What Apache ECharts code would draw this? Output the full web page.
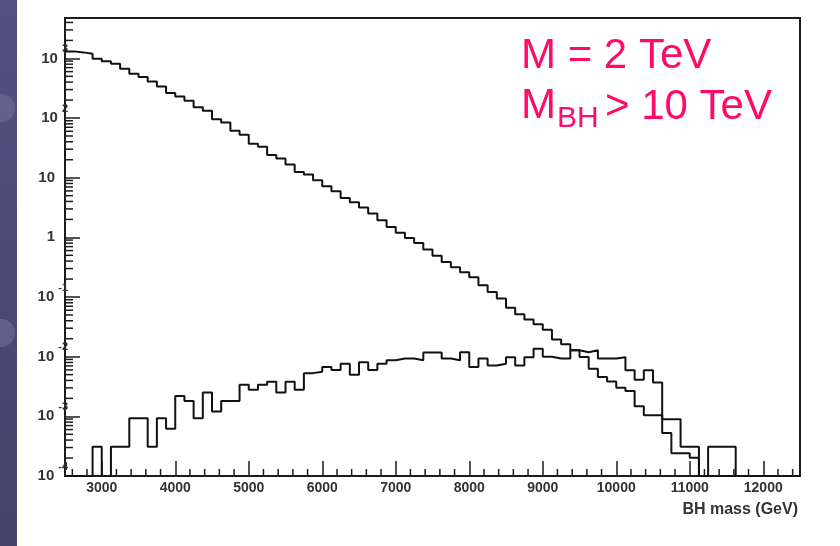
<!DOCTYPE html>
<html>
<head>
<meta charset="utf-8">
<title>BH mass</title>
<script src="https://cdn.jsdelivr.net/npm/echarts@6/dist/echarts.min.js"></script>
<style>
  html, body { margin: 0; padding: 0; background: #ffffff; }
  #chart { width: 840px; height: 546px; }
</style>
</head>
<body>
<div id="chart"></div>
<script>
// Binning: 80 bins of 125 GeV covering 2500 - 12500 GeV
const binLow = 2500;
const binWidth = 125;
const xMin = 2500;
const xMax = 12500;
const yMin = 1e-4;
const yMax = 4750;

// Falling spectrum (entries per bin), 0 = empty bin
const spectrumFalling = [
  1310, 1260, 1195, 985, 891, 811, 669, 552, 486, 411,
  339, 262, 230, 194, 151, 132, 95.8, 84.4, 61.0, 52.3,
  36.9, 33.1, 24.0, 21.0, 16.7, 12.5, 11.3, 9.08, 7.20, 5.94,
  4.58, 3.88, 3.16, 2.51, 1.94, 1.49, 1.19, 0.977, 0.805, 0.624,
  0.491, 0.387, 0.315, 0.260, 0.214, 0.157, 0.121, 0.094, 0.0659, 0.0513,
  0.0418, 0.0348, 0.0284, 0.0194, 0.0161, 0.0128, 0.00985, 0.00629, 0.00455, 0.00385,
  0.00302, 0.00265, 0.00147, 0.00104, 0.00104, 0.000527, 0.000241, 0.000241, 0.000202, 0,
  0, 0, 0, 0, 0, 0, 0, 0, 0, 0
];

// Rising spectrum (entries per bin), 0 = empty bin
const spectrumRising = [
  0, 0, 0, 0.00031, 0, 0.00031, 0.00031, 0.00093, 0.00093, 0.00031,
  0.00093, 0.00062, 0.0022, 0.0018, 0.00093, 0.0025, 0.0012, 0.0018, 0.0018, 0.0034,
  0.0028, 0.0034, 0.0038, 0.0025, 0.0038, 0.0028, 0.0053, 0.0056, 0.0067, 0.0060,
  0.0076, 0.0050, 0.0081, 0.0060, 0.0076, 0.0087, 0.0093, 0.0093, 0.0087, 0.0118,
  0.0118, 0.0093, 0.0087, 0.0119, 0.0067, 0.0093, 0.0071, 0.0076, 0.0098, 0.0071,
  0.0098, 0.0136, 0.0100, 0.0093, 0.0093, 0.0128, 0.0119, 0.0128, 0.0093, 0.0093,
  0.0098, 0.0059, 0.0041, 0.0059, 0.0037, 0.00089, 0.00089, 0.00031, 0.00031, 0,
  0.00031, 0.00031, 0.00031, 0, 0, 0, 0, 0, 0, 0
];

// Axis tick labels
const xTickLabels = [3000, 4000, 5000, 6000, 7000, 8000, 9000, 10000, 11000, 12000];
const yDecades = [-4, -3, -2, -1, 0, 1, 2, 3];

const labelColor = '#333333';
const frameColor = '#1c1c1c';
const labelFont = 'Liberation Sans, Arial, sans-serif';

// Histogram outline as step points at bin edges; empty bins sit on the frame floor
function stepPoints(values) {
  const pts = values.map((v, i) => [binLow + i * binWidth, v > 0 ? v : yMin]);
  pts.push([binLow + values.length * binWidth, pts[pts.length - 1][1]]);
  return pts;
}

// Minor tick positions: 2..9 per decade on y, every 200 GeV on x
const yMinorTicks = [];
yDecades.forEach(function (d) {
  for (let k = 2; k <= 9; k++) {
    const v = Number((k * Math.pow(10, d)).toPrecision(3));
    if (v < yMax) yMinorTicks.push(v);
  }
});
const xMinorTicks = [];
for (let v = xMin + 100; v < xMax; v += 200) {
  if (v % 1000 !== 0) xMinorTicks.push(v);
}

function tickSeries(data, horizontal, len) {
  return {
    type: 'custom',
    silent: true,
    clip: false,
    z: 4,
    animation: false,
    data: data,
    renderItem: function (params, api) {
      const p = api.coord([api.value(0), api.value(1)]);
      const shape = horizontal
        ? { x1: p[0], y1: p[1], x2: p[0] + len, y2: p[1] }
        : { x1: p[0], y1: p[1], x2: p[0], y2: p[1] - len };
      return { type: 'line', shape: shape, style: { stroke: frameColor, lineWidth: 1.5 } };
    }
  };
}

const chart = echarts.init(document.getElementById('chart'), null, { renderer: 'canvas' });

const option = {
  animation: false,
  backgroundColor: '#ffffff',
  grid: {
    left: 65, top: 18, right: 40, bottom: 70,
    show: true,
    borderColor: frameColor,
    borderWidth: 2,
    backgroundColor: '#ffffff',
    outerBoundsMode: 'none',
    containLabel: false
  },
  xAxis: {
    type: 'value',
    min: xMin,
    max: xMax,
    splitNumber: 10,
    minInterval: 1000,
    maxInterval: 1000,
    axisLine: { show: false },
    splitLine: { show: false },
    axisTick: { show: true, inside: true, length: 15, lineStyle: { color: frameColor, width: 1.5 } },
    axisLabel: {
      show: true,
      margin: 5,
      showMinLabel: false,
      showMaxLabel: false,
      hideOverlap: false,
      color: labelColor,
      fontFamily: labelFont,
      fontWeight: 'bold',
      fontSize: 14,
      formatter: function (v) { return xTickLabels.indexOf(v) >= 0 ? String(v) : ''; }
    },
    name: 'BH mass (GeV)',
    nameLocation: 'end',
    nameGap: 0,
    nameTextStyle: {
      color: labelColor,
      fontFamily: labelFont,
      fontSize: 16,
      fontWeight: 'bold',
      align: 'right',
      verticalAlign: 'top',
      padding: [26, 2, 0, 0]
    }
  },
  yAxis: {
    type: 'log',
    logBase: 10,
    min: yMin,
    max: yMax,
    splitNumber: 8,
    axisLine: { show: false },
    splitLine: { show: false },
    minorTick: { show: false },
    axisTick: { show: true, inside: true, length: 15, lineStyle: { color: frameColor, width: 1.5 } },
    axisLabel: {
      show: true,
      margin: -3,
      hideOverlap: false,
      color: labelColor,
      fontFamily: labelFont,
      fontWeight: 'bold',
      fontSize: 15,
      formatter: function (v) {
        const lg = Math.log10(v);
        const k = Math.round(lg);
        if (Math.abs(lg - k) > 1e-6 || yDecades.indexOf(k) < 0) return '';
        if (k === 0) return '{p|1}';
        if (k === 1) return '{p|10}';
        return '{b|10}{e|' + k + '}';
      },
      rich: {
        p: { fontSize: 15, fontWeight: 'bold', color: labelColor, fontFamily: labelFont, lineHeight: 30, padding: [0, 13, 0, 0] },
        b: { fontSize: 15, fontWeight: 'bold', color: labelColor, fontFamily: labelFont, lineHeight: 30, padding: [0, 4, 0, 0] },
        e: { fontSize: 11, fontWeight: 'bold', color: labelColor, fontFamily: labelFont, lineHeight: 12, verticalAlign: 'top' }
      }
    }
  },
  graphic: [
    // slide backdrop strip on the left
    {
      type: 'rect', z: -10, silent: true,
      shape: { x: 0, y: 0, width: 17, height: 546 },
      style: { fill: { type: 'linear', x: 0, y: 0, x2: 0, y2: 1, colorStops: [
        { offset: 0, color: '#52527f' }, { offset: 1, color: '#42426a' } ] } }
    },
    { type: 'circle', z: -9, silent: true, shape: { cx: 1, cy: 108, r: 14 },
      style: { fill: '#66668f', opacity: 0.8 } },
    { type: 'circle', z: -9, silent: true, shape: { cx: 1, cy: 333, r: 14 },
      style: { fill: '#66668f', opacity: 0.8 } },
    // annotation
    { type: 'text', z: 10, silent: true, x: 521, y: 56.7,
      style: { text: 'M = 2 TeV', fill: '#ff0a68', font: '42px "Liberation Sans", Arial, sans-serif', verticalAlign: 'middle', align: 'left' } },
    { type: 'text', z: 10, silent: true, x: 521, y: 106.7,
      style: { text: 'M', fill: '#ff0a68', font: '42px "Liberation Sans", Arial, sans-serif', verticalAlign: 'middle', align: 'left' } },
    { type: 'text', z: 10, silent: true, x: 557, y: 118.5,
      style: { text: 'BH', fill: '#ff0a68', font: '30px "Liberation Sans", Arial, sans-serif', verticalAlign: 'middle', align: 'left' } },
    { type: 'text', z: 10, silent: true, x: 605, y: 107.5,
      style: { text: '> 10 TeV', fill: '#ff0a68', font: '42px "Liberation Sans", Arial, sans-serif', verticalAlign: 'middle', align: 'left' } }
  ],
  series: [
    {
      type: 'line', name: 'falling', step: 'end', symbol: 'none', z: 3,
      data: stepPoints(spectrumFalling),
      lineStyle: { color: '#111111', width: 2 }
    },
    {
      type: 'line', name: 'rising', step: 'end', symbol: 'none', z: 3,
      data: stepPoints(spectrumRising),
      lineStyle: { color: '#111111', width: 2 }
    },
    tickSeries(yMinorTicks.map(function (v) { return [xMin, v]; }), true, 8),
    tickSeries(xMinorTicks.map(function (v) { return [v, yMin]; }), false, 7)
  ]
};

chart.setOption(option);
</script>
</body>
</html>
